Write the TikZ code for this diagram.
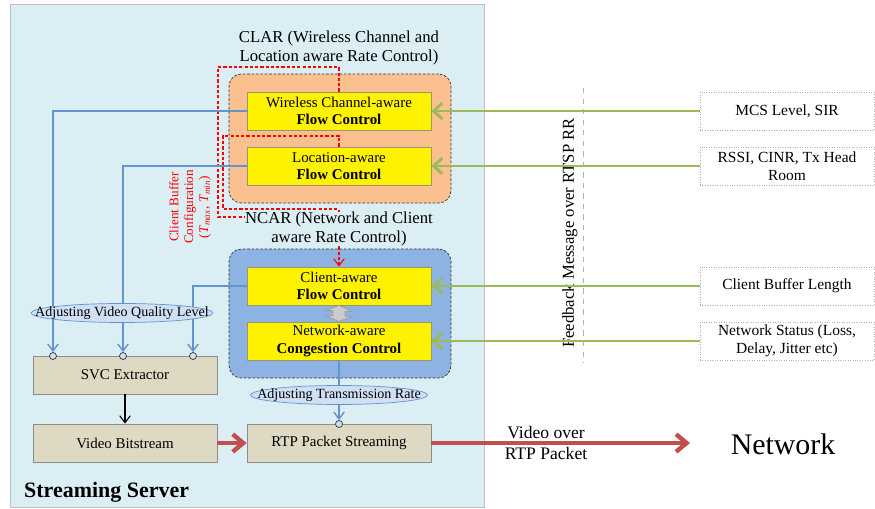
\documentclass[tikz,border=0pt]{standalone}
\usepackage{fontspec}
\setmainfont{Liberation Serif}
\usetikzlibrary{arrows.meta,shapes.geometric}

\definecolor{serverbg}{HTML}{DBEEF4}
\definecolor{clarbg}{HTML}{FAC090}
\definecolor{ncarbg}{HTML}{8DB3E2}
\definecolor{tanbg}{HTML}{DDD9C3}
\definecolor{ctlline}{HTML}{6494CE}
\definecolor{fbgreen}{HTML}{9BBB59}
\definecolor{vidred}{HTML}{C0504D}
\definecolor{ellbg}{HTML}{CFE0F5}
\definecolor{cfgred}{HTML}{FF0000}

\begin{document}
\begin{tikzpicture}[x=0.02cm, y=-0.02cm,
    >={Straight Barb[length=4pt,width=6pt]},
    ctl/.style={draw=black!50!olive!60, fill=yellow, minimum width=3.68cm, minimum height=0.76cm,
      align=center, inner sep=1pt, font=\fontsize{8.5}{10}\selectfont},
    tanbox/.style={ctl, fill=tanbg, draw=black!45},
    info/.style={draw=black!30, densely dotted, fill=white, minimum width=3.48cm, minimum height=0.76cm,
      align=center, inner sep=1pt, font=\fontsize{8.8}{10.5}\selectfont},
    group/.style={draw=black!80, dash pattern=on 1.5pt off 1pt, rounded corners=7pt,
      minimum width=4.44cm, minimum height=2.58cm},
    title/.style={align=center, font=\fontsize{9.5}{11}\selectfont},
    port/.style={draw=black!80, fill=ellbg, circle, inner sep=0pt, minimum size=0.14cm},
    tag/.style={draw=ctlline, fill=ellbg, ellipse, inner xsep=-0.45cm, inner ysep=0pt,
      minimum width=3.54cm, minimum height=0.38cm, font=\fontsize{8}{9}\selectfont},
    ctlln/.style={draw=ctlline, line width=0.8pt},
    fbln/.style={draw=fbgreen, line width=1.7pt, >={Straight Barb[length=5pt,width=9pt]}},
    vidln/.style={draw=vidred, line width=2.5pt, >={Straight Barb[length=6pt,width=10pt]}},
    cfgln/.style={draw=cfgred, dash pattern=on 1.8pt off 1.2pt, line width=0.6pt},
  ]
  \useasboundingbox (0,0) rectangle (875,509);

  % server area
  \node[draw=black!25, fill=serverbg, minimum width=9.48cm, minimum height=10.06cm] (server) at (247,255.5) {};
  \node[anchor=west, font=\fontsize{12.5}{14}\bfseries] (srvlbl) at (18,492) {Streaming Server};

  % rate control groups
  \node[group, fill=clarbg] (clar) at (340,138.5) {};
  \node[group, fill=ncarbg] (ncar) at (340,313.5) {};
  \node[title] (clartitle) at (339,48) {CLAR (Wireless Channel and\\Location aware Rate Control)};

  \node[ctl] (wcf) at (339,111) {Wireless Channel-aware\\\textbf{Flow Control}};
  \node[ctl] (lfc) at (339,166) {Location-aware\\\textbf{Flow Control}};
  \node[ctl] (cfc) at (339,286) {Client-aware\\\textbf{Flow Control}};
  \node[ctl] (nac) at (339,341) {Network-aware\\\textbf{Congestion Control}};

  \node[tanbox] (svc) at (125,375) {SVC Extractor};
  \node[tanbox] (vbs) at (125,443) {Video Bitstream};
  \node[tanbox] (rtp) at (339,443) {RTP Packet Streaming};

  \node[port] (p1) at (53,356) {};
  \node[port] (p2) at (123,356) {};
  \node[port] (p3) at (193,356) {};
  \node[port] (p4) at (339,424) {};

  % feedback side
  \node[info] (mcs) at (787,111) {MCS Level, SIR};
  \node[info] (rssi) at (787,166) {RSSI, CINR, Tx Head\\Room};
  \node[info] (cbl) at (787,286) {Client Buffer Length};
  \node[info] (nst) at (787,341) {Network Status (Loss,\\Delay, Jitter etc)};

  \coordinate (fbtop) at (583,88);
  \coordinate (fbbot) at (583,363);
  \draw[black!30, dashed] (fbtop) -- (fbbot);
  \node[rotate=90, font=\fontsize{9.5}{11}\selectfont] (fbmsg) at (570,233) {Feedback Message over RTSP RR};

  \draw[fbln, ->] (mcs) -- (wcf);
  \draw[fbln, ->] (rssi) -- (lfc);
  \draw[fbln, ->] (cbl) -- (cfc);
  \draw[fbln, ->] (nst) -- (nac);

  % client buffer configuration
  \coordinate (r1) at (218,67);
  \coordinate (r2) at (218,217);
  \coordinate (r3) at (223,136);
  \coordinate (r4) at (223,209);
  \draw[cfgln] (wcf.north) |- (r1) -- (r2) -- (r2 -| wcf.north);
  \draw[cfgln, ->] (lfc.north) |- (r3) -- (r4) -| (cfc.north);
  \node[rotate=90, text=cfgred, align=center, font=\fontsize{7.5}{8.5}\selectfont] (cbc) at (190,207)
    {Client Buffer\\Configuration\\(\textit{T}\textsubscript{\textit{max}}, \textit{T}\textsubscript{\textit{min}})};
  \node[title, fill=serverbg, inner sep=0pt] (ncartitle) at (339,229) {NCAR (Network and Client\\aware Rate Control)};

  % quality and rate adjustment
  \draw[ctlln, ->] (wcf.west) -| (p1);
  \draw[ctlln, ->] (lfc.west) -| (p2);
  \draw[ctlln, ->] (cfc.west) -| (p3);
  \draw[ctlln, ->] (nac.south) -- (p4);
  \node[tag] (avq) at (122,313) {Adjusting Video Quality Level};
  \node[tag] (atr) at (339,395) {Adjusting Transmission Rate};
  \draw[draw=black!40, fill=black!20, line width=0.4pt] (cfc.south) -- ++(13,6) -- ++(-7,0) -- ++(0,5)
    -- ++(7,0) -- (nac.north) -- ++(-13,-6) -- ++(7,0) -- ++(0,-5) -- ++(-7,0) -- cycle;

  % video path
  \draw[->, line width=0.6pt] (svc) -- (vbs);
  \draw[vidln, ->] (vbs) -- (rtp);
  \coordinate (netend) at (690,443);
  \draw[vidln, ->] (rtp.east) -- (netend);
  \node[align=center, font=\fontsize{10}{12.5}\selectfont] (vorp) at (546,443) {Video over\\RTP Packet};
  \node[font=\fontsize{17}{20}\selectfont] (net) at (783,444) {Network};
\end{tikzpicture}
\end{document}
